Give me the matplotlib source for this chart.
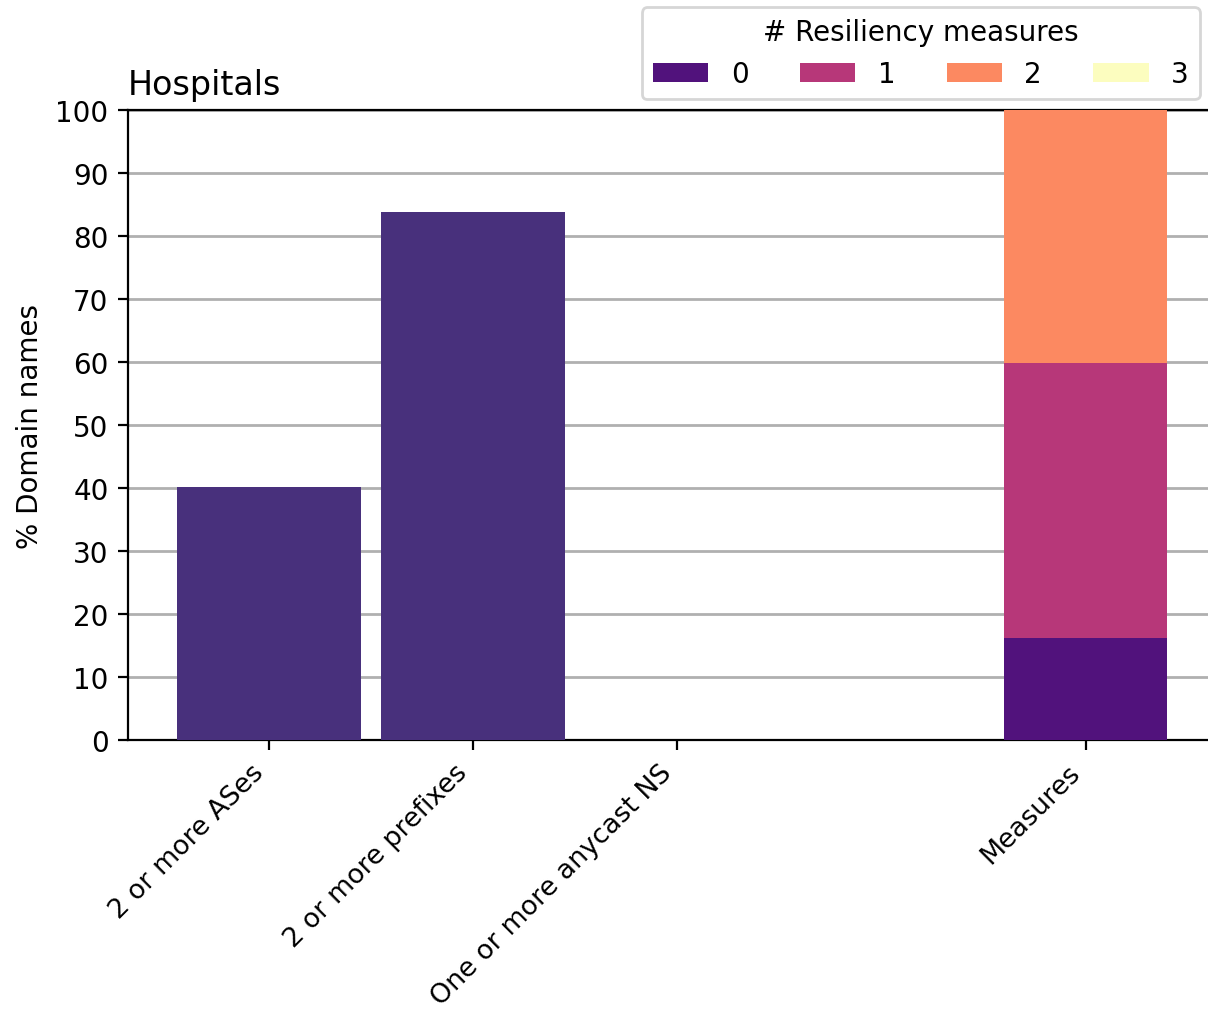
import matplotlib.pyplot as plt

# Individual resiliency measures (% of domain names)
measure_names = ['2 or more ASes', '2 or more prefixes', 'One or more anycast NS']
measure_values = [40.2, 83.9, 0.0]

# Number of measures per domain (stacked bar)
count_labels = ['0', '1', '2', '3']
count_values = [16.2, 43.6, 40.2, 0.0]
count_colors = ['#51127c', '#b73779', '#fc8961', '#fcfdbf']

plt.rcParams['font.size'] = 10

fig = plt.figure(figsize=(6.04, 5.06), dpi=200)
ax = fig.add_axes([0.106, 0.268, 0.894, 0.622])

positions = list(range(len(measure_names)))
ax.bar(positions, measure_values, width=0.9, color='#48307c', zorder=3)

stack_x = len(measure_names) + 1
bottom = 0
for lab, val, col in zip(count_labels, count_values, count_colors):
    ax.bar(stack_x, val, width=0.8, bottom=bottom, color=col, label=lab, zorder=3)
    bottom += val

ax.set_xticks(positions + [stack_x])
ax.set_xticklabels(measure_names + ['Measures'], rotation=45, ha='right',
                   fontsize=9.7)
ax.set_xlim(-0.69, 4.6)
ax.set_ylim(0, 100)
ax.set_yticks(range(0, 101, 10))
ax.grid(axis='y', color='#b0b0b0', linewidth=1, zorder=0)
ax.spines['right'].set_visible(False)
ax.set_ylabel('% Domain names')
ax.set_title('Hospitals', loc='left')

fig.legend(title='# Resiliency measures', ncol=4, loc='upper right',
           bbox_to_anchor=(1200 / 1208, 1 - 8 / 1012), borderaxespad=0,
           columnspacing=1.85)

fig.savefig('out.png', dpi=200)
